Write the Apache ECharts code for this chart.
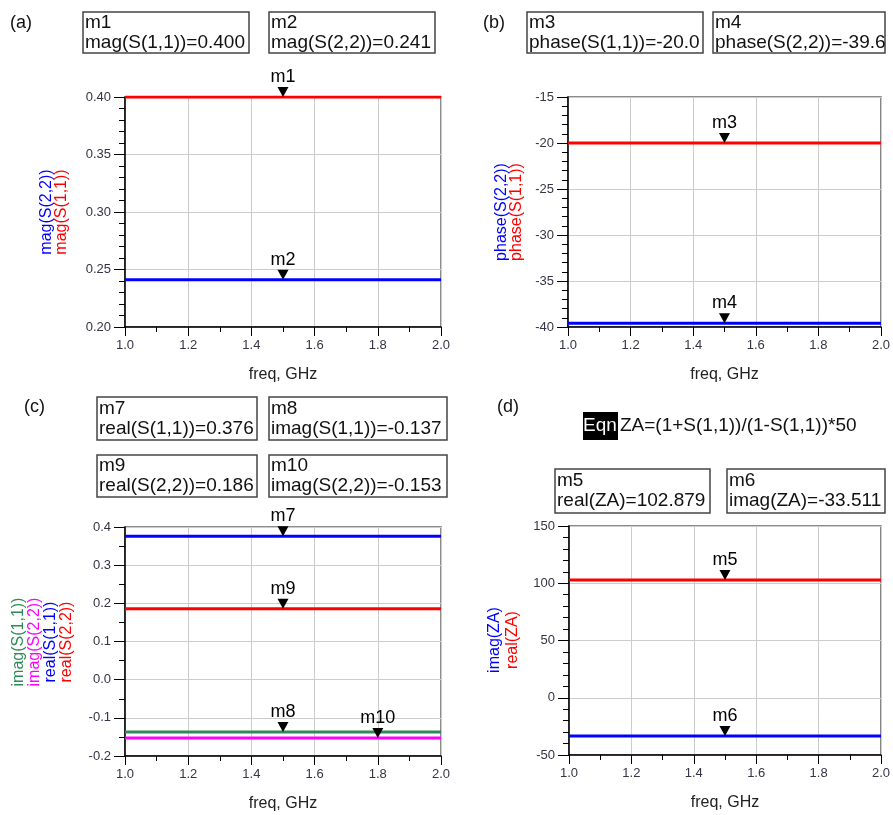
<!DOCTYPE html>
<html><head><meta charset="utf-8">
<script src="https://cdn.jsdelivr.net/npm/echarts@6/dist/echarts.min.js"></script>
<style>html,body{margin:0;padding:0;background:#fff}#c{width:893px;height:815px}</style>
</head><body><div id="c"></div>
<script>
// ---------- data ----------
const freq = [1.0, 2.0];
// (a) magnitude
const magS11 = [0.400, 0.400];
const magS22 = [0.241, 0.241];
// (b) phase (deg)
const phaseS11 = [-20.0, -20.0];
const phaseS22 = [-39.6, -39.6];
// (c) real / imag
const realS11 = [0.376, 0.376];
const imagS11 = [-0.137, -0.137];
const realS22 = [0.186, 0.186];
const imagS22 = [-0.153, -0.153];
// (d) impedance ZA
const realZA = [102.879, 102.879];
const imagZA = [-33.511, -33.511];
// markers
const markerNames = ['m1', 'm2', 'm3', 'm4', 'm7', 'm8', 'm9', 'm10', 'm5', 'm6'];
const markerFreq  = [1.5, 1.5, 1.5, 1.5, 1.5, 1.5, 1.5, 1.8, 1.5, 1.5];
const markerValue = [0.400, 0.241, -20.0, -39.6, 0.376, -0.137, 0.186, -0.153, 102.879, -33.511];
const markerPanel = [0, 0, 1, 1, 2, 2, 2, 2, 3, 3];
// readout boxes text
const readoutText = [
  'm1\nmag(S(1,1))=0.400', 'm2\nmag(S(2,2))=0.241',
  'm3\nphase(S(1,1))=-20.0', 'm4\nphase(S(2,2))=-39.6',
  'm7\nreal(S(1,1))=0.376', 'm8\nimag(S(1,1))=-0.137',
  'm9\nreal(S(2,2))=0.186', 'm10\nimag(S(2,2))=-0.153',
  'm5\nreal(ZA)=102.879', 'm6\nimag(ZA)=-33.511'
];
const xTicks = {min: 1.0, max: 2.0, interval: 0.2};
const yRanges = [
  {min: 0.20, max: 0.40, interval: 0.05, minor: 5, dec: 2},
  {min: -40, max: -15, interval: 5, minor: 5, dec: 0},
  {min: -0.2, max: 0.4, interval: 0.1, minor: 2, dec: 1},
  {min: -50, max: 150, interval: 50, minor: 5, dec: 0}
];

// ---------- layout ----------
const FONT = '"Liberation Sans", Arial, sans-serif';
const grids = [
  {left: 125, top: 97, width: 316, height: 230},
  {left: 568, top: 97, width: 317, height: 230},
  {left: 125, top: 527, width: 316, height: 229},
  {left: 569, top: 526, width: 316, height: 229}
];
const RED = '#ff0000', BLUE = '#0000ff', GREEN = '#2e8b57', MAG = '#ff00ff';
const labelColor = '#343444';

const xAxes = grids.map((g, i) => ({
  type: 'value', gridIndex: i, min: xTicks.min, max: xTicks.max, interval: xTicks.interval,
  name: 'freq, GHz', nameLocation: 'middle', nameGap: 40,
  nameTextStyle: {fontFamily: FONT, fontSize: 16, color: '#222'},
  axisLine: {show: true, onZero: false, lineStyle: {color: '#000', width: 1.5}},
  axisTick: {show: true, length: 9, lineStyle: {color: '#000'}},
  minorTick: {show: true, splitNumber: 2, length: 5, lineStyle: {color: '#000'}},
  axisLabel: {fontFamily: FONT, fontSize: 13, color: labelColor, margin: 12,
    formatter: v => v.toFixed(1)},
  splitLine: {show: true, lineStyle: {color: '#cccccc', width: 1}}
}));
const yAxes = grids.map((g, i) => ({
  type: 'value', gridIndex: i, min: yRanges[i].min, max: yRanges[i].max, interval: yRanges[i].interval,
  axisLine: {show: true, onZero: false, lineStyle: {color: '#000', width: 1.5}},
  axisTick: {show: true, length: 11, lineStyle: {color: '#000'}},
  minorTick: {show: true, splitNumber: yRanges[i].minor, length: 6, lineStyle: {color: '#000'}},
  axisLabel: {fontFamily: FONT, fontSize: 13, color: labelColor, margin: 14,
    formatter: v => v.toFixed(yRanges[i].dec)},
  splitLine: {show: true, lineStyle: {color: '#cccccc', width: 1}}
}));

function lineSeries(idx, ys, color) {
  return {
    type: 'line', xAxisIndex: idx, yAxisIndex: idx, showSymbol: false, symbol: 'none',
    data: freq.map((f, k) => [f, ys[k]]), lineStyle: {color: color, width: 3}, z: 3,
    silent: true, animation: false
  };
}
const series = [
  lineSeries(0, magS11, RED), lineSeries(0, magS22, BLUE),
  lineSeries(1, phaseS11, RED), lineSeries(1, phaseS22, BLUE),
  lineSeries(2, realS11, BLUE), lineSeries(2, realS22, RED),
  lineSeries(2, imagS11, GREEN), lineSeries(2, imagS22, MAG),
  lineSeries(3, realZA, RED), lineSeries(3, imagZA, BLUE)
];
for (let p = 0; p < 4; p++) {
  const pts = [];
  markerNames.forEach((n, k) => { if (markerPanel[k] === p) pts.push({name: n, value: [markerFreq[k], markerValue[k]]}); });
  series.push({
    type: 'scatter', xAxisIndex: p, yAxisIndex: p, data: pts, z: 5, animation: false,
    symbol: 'triangle', symbolRotate: 180, symbolSize: [11, 10], symbolOffset: [0, -5],
    itemStyle: {color: '#000', opacity: 1},
    label: {show: true, position: 'top', distance: 1, formatter: d => d.name,
      fontFamily: FONT, fontSize: 18, color: '#000', opacity: 1}
  });
}

// ---------- graphics ----------
const graphic = [];
function panelLabel(txt, x, y) {
  graphic.push({type: 'text', x: x, y: y, style: {text: txt, font: '18px ' + FONT, fill: '#111', textVerticalAlign: 'middle'}});
}
panelLabel('(a)', 10, 23); panelLabel('(b)', 483, 23); panelLabel('(c)', 24, 407); panelLabel('(d)', 497, 407);

const boxes = [
  [83, 12, 166, 41], [269, 12, 166, 41],
  [527, 12, 176, 41], [713, 12, 172, 41],
  [97, 397, 160, 43], [269, 397, 178, 43],
  [97, 455, 160, 42], [269, 455, 178, 42],
  [555, 469, 155, 44], [727, 469, 158, 44]
];
boxes.forEach((b, k) => {
  graphic.push({type: 'rect', shape: {x: b[0], y: b[1], width: b[2], height: b[3]},
    style: {fill: '#fff', stroke: '#444', lineWidth: 1.5}});
  graphic.push({type: 'text', x: b[0] + 2, y: b[1] + b[3] / 2 - 20,
    style: {text: readoutText[k], font: '19px ' + FONT, fill: '#111', lineHeight: 20, textVerticalAlign: 'top'}});
});
// equation
graphic.push({type: 'rect', shape: {x: 583, y: 412, width: 35, height: 28}, style: {fill: '#000'}});
graphic.push({type: 'text', x: 600, y: 426, style: {text: 'Eqn', font: '19px ' + FONT, fill: '#fff', textAlign: 'center', textVerticalAlign: 'middle'}});
graphic.push({type: 'text', x: 620, y: 426, style: {text: 'ZA=(1+S(1,1))/(1-S(1,1))*50', font: '19px ' + FONT, fill: '#111', textVerticalAlign: 'middle'}});

// rotated y-axis names
function yName(txt, color, x, y) {
  graphic.push({type: 'text', x: x, y: y, rotation: Math.PI / 2,
    style: {text: txt, font: '16px ' + FONT, fill: color, textAlign: 'center', textVerticalAlign: 'middle'}});
}
yName('mag(S(2,2))', BLUE, 47, 212); yName('mag(S(1,1))', RED, 62, 212);
yName('phase(S(2,2))', BLUE, 502, 212); yName('phase(S(1,1))', RED, 517, 212);
yName('imag(S(1,1))', GREEN, 19, 642); yName('imag(S(2,2))', MAG, 35, 642);
yName('real(S(1,1))', BLUE, 51, 642); yName('real(S(2,2))', RED, 67, 642);
yName('imag(ZA)', BLUE, 495, 640); yName('real(ZA)', RED, 513, 640);

const chart = echarts.init(document.getElementById('c'), null, {renderer: 'canvas'});
chart.setOption({
  animation: false,
  backgroundColor: '#fff',
  grid: grids.map(g => Object.assign({show: true, borderColor: '#666', borderWidth: 1.5, backgroundColor: 'transparent'}, g)),
  xAxis: xAxes, yAxis: yAxes, series: series, graphic: graphic
});
</script></body></html>
